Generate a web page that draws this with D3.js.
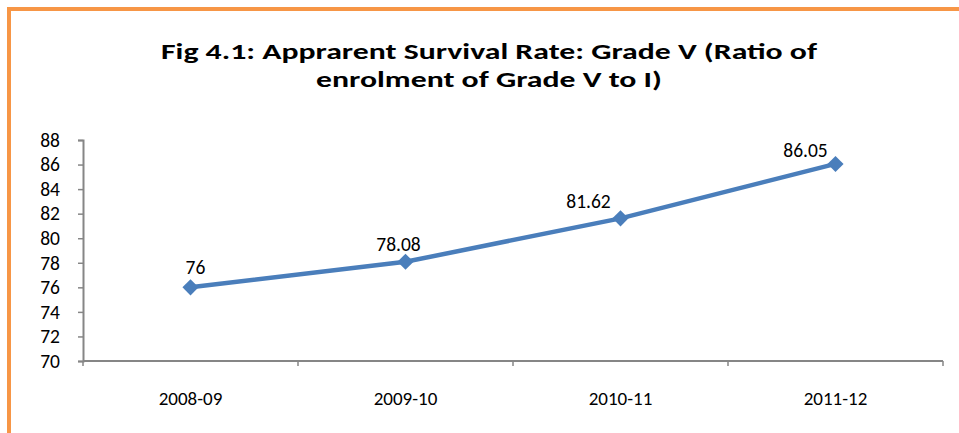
<!DOCTYPE html>
<html>
<head>
<meta charset="utf-8">
<script src="https://cdnjs.cloudflare.com/ajax/libs/d3/7.8.5/d3.min.js"></script>
<style>
  body { margin: 0; background: #fff; }
  svg text { font-family: Carlito, Lato, "Open Sans", sans-serif; fill: #000; }
  .axis path, .axis line { stroke: #868686; }
</style>
</head>
<body>
<svg width="959" height="433"></svg>
<script>
var years = ["2008-09", "2009-10", "2010-11", "2011-12"];
var survival = [76, 78.08, 81.62, 86.05];
var yTicks = [70, 72, 74, 76, 78, 80, 82, 84, 86, 88];
var titleLines = ["Fig 4.1: Apprarent Survival Rate: Grade V (Ratio of", "enrolment of Grade V to I)"];

var svg = d3.select("svg"),
    margin = {top: 140, right: 16, bottom: 72, left: 83},
    width = svg.attr("width") - margin.left - margin.right,
    height = svg.attr("height") - margin.top - margin.bottom,
    g = svg.append("g").attr("transform", "translate(" + margin.left + "," + margin.top + ")");

// orange frame (only top and left visible)
svg.append("rect")
    .attr("x", 9).attr("y", 9)
    .attr("width", 1000).attr("height", 500)
    .attr("fill", "none")
    .attr("stroke", "#F79646")
    .attr("stroke-width", 4);

// title, squeezed to the width of the original
var titleWidths = [656, 346];
svg.selectAll(".title")
    .data(titleLines)
  .enter().append("text")
    .attr("class", "title")
    .attr("x", 489)
    .attr("y", function(d, i) { return 59 + i * 28; })
    .attr("text-anchor", "middle")
    .style("font-size", "23px")
    .style("font-weight", "bold")
    .text(function(d) { return d; })
    .attr("textLength", function(d, i) { return titleWidths[i]; })
    .attr("lengthAdjust", "spacingAndGlyphs");

var x = d3.scaleBand().domain(years).range([0, width]),
    y = d3.scaleLinear().domain([70, 88]).range([height, 0]);

// x axis with ticks between categories
var xAxis = g.append("g")
    .attr("class", "axis")
    .attr("transform", "translate(0," + height + ")");
xAxis.append("path")
    .attr("d", "M0,0H" + width)
    .attr("stroke-width", 2);
xAxis.selectAll(".tick")
    .data(d3.range(years.length + 1))
  .enter().append("line")
    .attr("x1", function(i) { return i * x.bandwidth(); })
    .attr("x2", function(i) { return i * x.bandwidth(); })
    .attr("y1", 0).attr("y2", 5)
    .attr("stroke-width", 1.5);
xAxis.selectAll(".lbl")
    .data(years)
  .enter().append("text")
    .attr("x", function(d) { return x(d) + x.bandwidth() / 2; })
    .attr("y", 44)
    .attr("text-anchor", "middle")
    .style("font-size", "19px")
    .text(function(d) { return d; });

// y axis
g.append("g")
    .attr("class", "axis")
    .call(d3.axisLeft(y).tickValues(yTicks).tickSize(5).tickPadding(18).tickSizeOuter(5))
    .call(function(a) {
      a.select(".domain").attr("stroke-width", 2);
      a.selectAll("line").attr("stroke-width", 1.5);
      a.selectAll("text").style("font-size", "19.5px").attr("fill", "#000");
    });

var line = d3.line()
    .x(function(d, i) { return x(years[i]) + x.bandwidth() / 2; })
    .y(function(d) { return y(d); });

g.append("path")
    .datum(survival)
    .attr("d", line)
    .attr("fill", "none")
    .attr("stroke", "#4A7EBB")
    .attr("stroke-width", 4.5);

g.selectAll(".pt")
    .data(survival)
  .enter().append("path")
    .attr("class", "pt")
    .attr("d", d3.symbol().type(d3.symbolSquare).size(130))
    .attr("transform", function(d, i) {
      return "translate(" + (x(years[i]) + x.bandwidth() / 2) + "," + y(d) + ") rotate(45)";
    })
    .attr("fill", "#4A7EBB");

// data labels, placed as in the original
var labelShift = [[5, -13], [-7, -11], [-32, -10], [-30, -7]];
g.selectAll(".val")
    .data(survival)
  .enter().append("text")
    .attr("x", function(d, i) { return x(years[i]) + x.bandwidth() / 2 + labelShift[i][0]; })
    .attr("y", function(d, i) { return y(d) + labelShift[i][1]; })
    .attr("text-anchor", "middle")
    .style("font-size", "19.5px")
    .text(function(d) { return d; });
</script>
</body>
</html>
